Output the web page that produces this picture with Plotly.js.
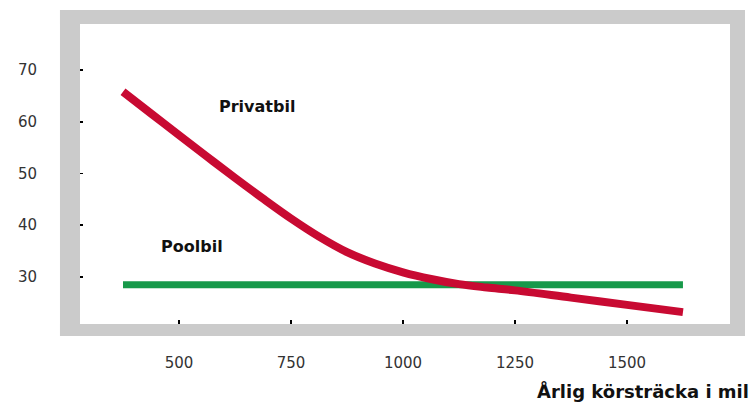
<!DOCTYPE html>
<html>
<head>
<meta charset="utf-8">
<script src="https://cdn.plot.ly/plotly-3.0.1.min.js"></script>
<style>html,body{margin:0;padding:0;background:#fff;}#chart{width:756px;height:403px;}</style>
</head>
<body>
<div id="chart"></div>
<script>
var mileage = [375, 437.5, 500, 562.5, 625, 687.5, 750, 812.5, 875, 937.5, 1000, 1062.5, 1125, 1187.5, 1250, 1375, 1500, 1625];
var privatbil = [65.8, 61.6, 57.4, 53.25, 49.15, 45.15, 41.3, 37.8, 34.8, 32.6, 30.9, 29.6, 28.6, 27.95, 27.4, 26.0, 24.6, 23.2];
var poolbilX = [375, 1625];
var poolbil = [28.5, 28.5];
var xTicks = [500, 750, 1000, 1250, 1500];
var yTicks = [30, 40, 50, 60, 70];
var labelPrivat = "Privatbil";
var labelPool = "Poolbil";
var xTitle = "Årlig körsträcka i mil";

var gray = "#cbcbcb";
var traces = [
  {x: poolbilX, y: poolbil, mode: "lines", line: {color: "#17994a", width: 7}, hoverinfo: "skip"},
  {x: mileage, y: privatbil, mode: "lines", line: {color: "#c80a32", width: 8, shape: "spline", smoothing: 1}, hoverinfo: "skip"}
];

var layout = {
  width: 756, height: 403,
  margin: {l: 80, r: 26, t: 24, b: 79},
  paper_bgcolor: "#ffffff",
  plot_bgcolor: "#ffffff",
  showlegend: false,
  xaxis: {
    range: [279, 1730], tickvals: xTicks, ticktext: xTicks.map(String),
    ticks: "inside", ticklen: 4, tickwidth: 1.5, tickcolor: "#000",
    showgrid: false, zeroline: false, showline: false,
    ticklabelstandoff: 28,
    tickfont: {family: "DejaVu Sans", size: 15, color: "#333"}
  },
  yaxis: {
    range: [20.9, 78.9], tickvals: yTicks, ticktext: yTicks.map(String),
    ticks: "inside", ticklen: 3, tickwidth: 1.5, tickcolor: "#000",
    showgrid: false, zeroline: false, showline: false,
    ticklabelstandoff: 42,
    tickfont: {family: "DejaVu Sans", size: 15, color: "#333"}
  },
  shapes: [
    {type: "rect", xref: "paper", yref: "paper", x0: -0.0308, x1: 0, y0: -0.04, y1: 1.0467, fillcolor: gray, line: {width: 0}, layer: "below"},
    {type: "rect", xref: "paper", yref: "paper", x0: 1, x1: 1.0231, y0: -0.04, y1: 1.0467, fillcolor: gray, line: {width: 0}, layer: "below"},
    {type: "rect", xref: "paper", yref: "paper", x0: -0.0308, x1: 1.0231, y0: 1, y1: 1.0467, fillcolor: gray, line: {width: 0}, layer: "below"},
    {type: "rect", xref: "paper", yref: "paper", x0: -0.0308, x1: 1.0231, y0: -0.04, y1: 0, fillcolor: gray, line: {width: 0}, layer: "below"}
  ],
  annotations: [
    {text: "<b>" + labelPrivat + "</b>", xref: "paper", yref: "paper", x: (257 - 80) / 650, y: (324 - 106) / 300, xanchor: "center", yanchor: "middle", showarrow: false, font: {family: "DejaVu Sans", size: 16, color: "#111"}},
    {text: "<b>" + labelPool + "</b>", xref: "paper", yref: "paper", x: (192 - 80) / 650, y: (324 - 246) / 300, xanchor: "center", yanchor: "middle", showarrow: false, font: {family: "DejaVu Sans", size: 16, color: "#111"}},
    {text: "<b>" + xTitle + "</b>", xref: "paper", yref: "paper", x: (751 - 80) / 650, y: (324 - 391) / 300, xanchor: "right", yanchor: "middle", showarrow: false, font: {family: "DejaVu Sans", size: 18, color: "#111"}}
  ]
};

Plotly.newPlot("chart", traces, layout, {displayModeBar: false, staticPlot: true});
</script>
</body>
</html>
